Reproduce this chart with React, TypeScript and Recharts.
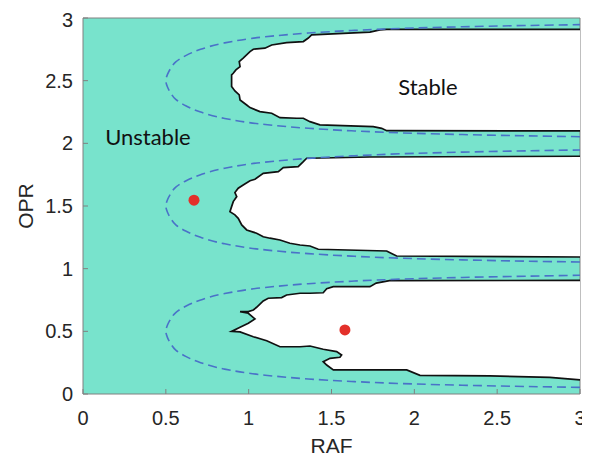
import { ReferenceArea, ReferenceDot, Scatter, ScatterChart, XAxis, YAxis } from "recharts";

type Pt = [number, number];

const AXIS_TICKS = [0, 0.5, 1, 1.5, 2, 2.5, 3];

// stable regions, outline traced [RAF, OPR], starting and ending on the right edge
const stableTop: Pt[] = [
  [3.0, 2.91], [1.833, 2.91], [1.792, 2.905], [1.732, 2.887], [1.38, 2.865], [1.36, 2.84],
  [1.33, 2.812], [1.229, 2.804], [1.139, 2.785], [1.098, 2.759], [1.028, 2.751], [1.008, 2.732],
  [0.967, 2.679], [0.943, 2.652], [0.948, 2.612], [0.923, 2.586], [0.907, 2.559], [0.897, 2.546],
  [0.897, 2.453], [0.917, 2.418], [0.943, 2.386], [0.948, 2.346], [0.988, 2.306], [1.008, 2.285],
  [1.068, 2.253], [1.139, 2.24], [1.189, 2.205], [1.29, 2.2], [1.33, 2.2], [1.37, 2.173],
  [1.43, 2.147], [1.752, 2.133], [1.803, 2.12], [1.833, 2.101], [3.0, 2.099],
];

const stableMid: Pt[] = [
  [3.0, 1.897], [1.732, 1.891], [1.37, 1.881], [1.35, 1.881], [1.33, 1.854], [1.299, 1.814],
  [1.209, 1.806], [1.179, 1.774], [1.088, 1.761], [1.038, 1.713], [1.008, 1.702], [0.967, 1.668],
  [0.937, 1.642], [0.917, 1.607], [0.928, 1.575], [0.907, 1.535], [0.897, 1.495], [0.887, 1.455],
  [0.917, 1.429], [0.937, 1.402], [0.958, 1.349], [0.988, 1.309], [1.048, 1.283], [1.088, 1.255],
  [1.129, 1.243], [1.189, 1.229], [1.249, 1.203], [1.31, 1.189], [1.37, 1.181], [1.42, 1.155],
  [1.833, 1.141], [1.893, 1.101], [3.0, 1.093],
];

const stableLow: Pt[] = [
  [3.0, 0.906], [1.85, 0.905], [1.77, 0.885], [1.732, 0.856], [1.511, 0.856], [1.471, 0.84],
  [1.45, 0.808], [1.37, 0.804], [1.31, 0.804], [1.229, 0.79], [1.199, 0.769], [1.118, 0.764],
  [1.088, 0.742], [1.048, 0.692], [1.028, 0.67], [0.998, 0.657], [0.948, 0.657], [0.998, 0.644],
  [1.038, 0.599], [0.998, 0.564], [0.948, 0.532], [0.897, 0.499], [0.948, 0.495], [1.028, 0.457],
  [1.109, 0.425], [1.189, 0.377], [1.31, 0.377], [1.37, 0.383], [1.45, 0.357], [1.531, 0.338],
  [1.561, 0.311], [1.551, 0.293], [1.491, 0.285], [1.45, 0.258], [1.471, 0.231], [1.511, 0.192],
  [1.954, 0.192], [2.034, 0.149], [2.456, 0.144], [2.818, 0.133], [3.0, 0.112],
];

// dashed boundary curves
const dashTop: Pt[] = [
  [3.0, 2.053], [2.67, 2.06], [2.29, 2.07], [2.0, 2.08], [1.62, 2.1], [1.36, 2.12], [1.1, 2.15],
  [0.85, 2.2], [0.71, 2.25], [0.62, 2.3], [0.56, 2.35], [0.53, 2.4], [0.51, 2.45], [0.5, 2.5],
  [0.51, 2.55], [0.53, 2.6], [0.56, 2.65], [0.62, 2.7], [0.71, 2.75], [0.85, 2.8], [1.1, 2.85],
  [1.36, 2.88], [1.62, 2.9], [2.0, 2.92], [2.29, 2.93], [2.67, 2.94], [3.0, 2.947],
];

const dashMid: Pt[] = [
  [3.0, 1.053], [2.67, 1.06], [2.29, 1.07], [2.0, 1.08], [1.62, 1.1], [1.36, 1.12], [1.1, 1.15],
  [0.85, 1.2], [0.71, 1.25], [0.62, 1.3], [0.56, 1.35], [0.53, 1.4], [0.51, 1.45], [0.5, 1.5],
  [0.51, 1.55], [0.53, 1.6], [0.56, 1.65], [0.62, 1.7], [0.71, 1.75], [0.85, 1.8], [1.1, 1.85],
  [1.36, 1.88], [1.62, 1.9], [2.0, 1.92], [2.29, 1.93], [2.67, 1.94], [3.0, 1.947],
];

const dashLow: Pt[] = [
  [3.0, 0.053], [2.67, 0.06], [2.29, 0.07], [2.0, 0.08], [1.62, 0.1], [1.36, 0.12], [1.1, 0.15],
  [0.85, 0.2], [0.71, 0.25], [0.62, 0.3], [0.56, 0.35], [0.53, 0.4], [0.51, 0.45], [0.5, 0.5],
  [0.51, 0.55], [0.53, 0.6], [0.56, 0.65], [0.62, 0.7], [0.71, 0.75], [0.85, 0.8], [1.1, 0.85],
  [1.36, 0.88], [1.62, 0.9], [2.0, 0.92], [2.29, 0.93], [2.67, 0.94], [3.0, 0.947],
];

const operatingPoints: Pt[] = [
  [0.67, 1.546],
  [1.581, 0.511],
];

const TEAL = "#78e3cc";
const DASH = "#4a72c8";
const AXIS_GREY = "#808080";

const toRows = (pts: Pt[]) => pts.map(([raf, opr]) => ({ raf, opr }));

const noMarker = () => <g />;

const redDot = (props: any) => <circle cx={props.cx} cy={props.cy} r={5.5} fill="#e3302a" />;

const tickStyle = { fill: "#262626", fontSize: 20, fontFamily: "Liberation Sans, Arial, sans-serif" };
const titleStyle = { fill: "#262626", fontSize: 21, fontFamily: "Liberation Sans, Arial, sans-serif" };
const regionStyle = { fill: "#111", fontSize: 22, fontFamily: "Lato, sans-serif" };

export default function App() {
  const outline = { stroke: "#111", strokeWidth: 1.7, fill: "#fff" };
  const dashed = { stroke: DASH, strokeWidth: 1.6, strokeDasharray: "9 5", fill: "none" };

  return (
    <ScatterChart width={582} height={450} margin={{ top: 0, right: 0, bottom: 0, left: 0 }}>
      <ReferenceArea x1={0} x2={3} y1={0} y2={3} fill={TEAL} fillOpacity={1} stroke="none" />

      {[stableTop, stableMid, stableLow].map((pts, i) => (
        <Scatter
          key={`stable-${i}`}
          data={toRows(pts)}
          line={outline}
          lineType="joint"
          lineJointType="linear"
          shape={noMarker}
          isAnimationActive={false}
        />
      ))}

      {[dashTop, dashMid, dashLow].map((pts, i) => (
        <Scatter
          key={`dash-${i}`}
          data={toRows(pts)}
          line={dashed}
          lineType="joint"
          lineJointType="monotoneY"
          shape={noMarker}
          isAnimationActive={false}
        />
      ))}

      <Scatter data={toRows(operatingPoints)} shape={redDot} isAnimationActive={false} />

      <ReferenceDot
        x={0.392}
        y={2.051}
        r={1}
        fill="none"
        stroke="none"
        label={{ value: "Unstable", position: "center", ...regionStyle }}
      />
      <ReferenceDot
        x={2.082}
        y={2.45}
        r={1}
        fill="none"
        stroke="none"
        label={{ value: "Stable", position: "center", ...regionStyle }}
      />

      <XAxis
        dataKey="raf"
        type="number"
        domain={[0, 3]}
        ticks={AXIS_TICKS}
        height={64}
        stroke={AXIS_GREY}
        tickSize={-5}
        tickMargin={22}
        tick={tickStyle}
        label={{ value: "RAF", position: "insideBottom", offset: 5, ...titleStyle }}
      />
      <XAxis
        xAxisId="top"
        orientation="top"
        dataKey="raf"
        type="number"
        domain={[0, 3]}
        ticks={AXIS_TICKS}
        height={10}
        stroke={AXIS_GREY}
        tickSize={-5}
        tick={false}
      />
      <YAxis
        dataKey="opr"
        type="number"
        domain={[0, 3]}
        ticks={AXIS_TICKS}
        width={75}
        stroke={AXIS_GREY}
        tickSize={-5}
        tickMargin={15}
        tick={tickStyle}
        label={{ value: "OPR", angle: -90, position: "center", dx: -20, ...titleStyle }}
      />
      <YAxis
        yAxisId="right"
        orientation="right"
        dataKey="opr"
        type="number"
        domain={[0, 3]}
        ticks={AXIS_TICKS}
        width={10}
        stroke={AXIS_GREY}
        tickSize={-5}
        tick={false}
      />
    </ScatterChart>
  );
}
